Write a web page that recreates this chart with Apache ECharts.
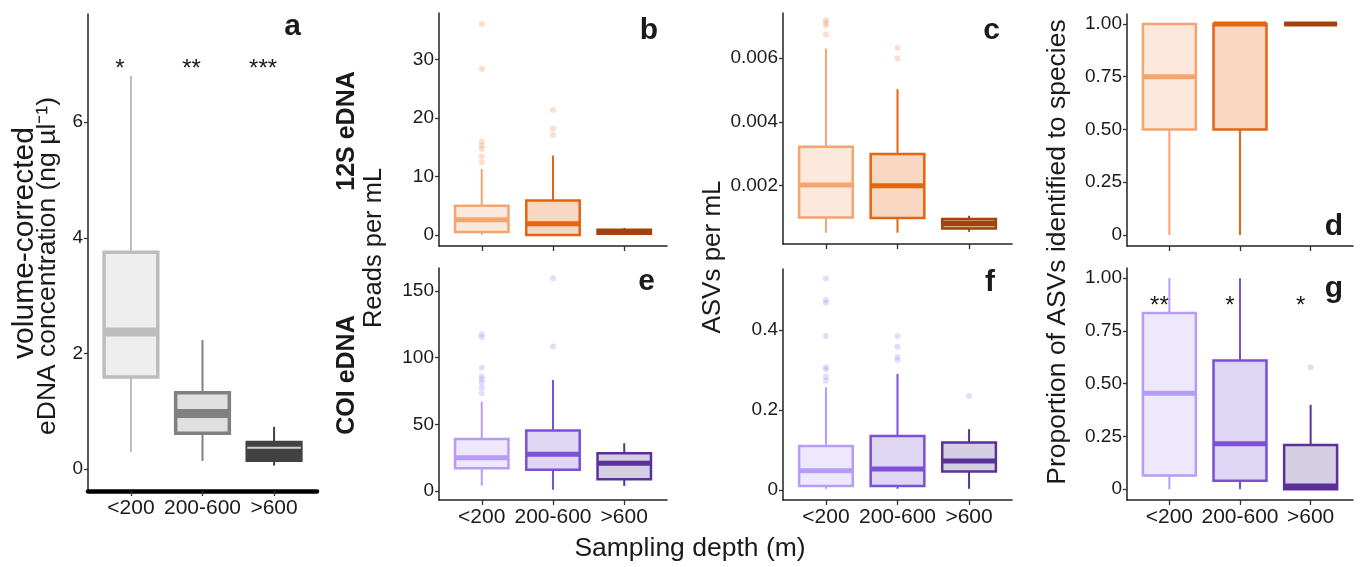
<!DOCTYPE html>
<html><head><meta charset="utf-8">
<script src="https://cdn.jsdelivr.net/npm/echarts@6/dist/echarts.min.js"></script>
<style>html,body{margin:0;padding:0;background:#fff}#c{width:1364px;height:567px}</style>
</head><body><div id="c"></div>
<script>
// ---------- data ----------
const depthCats = ['<200', '200-600', '>600'];
// box stats per depth: [lower whisker, Q1, median, Q3, upper whisker]
const concStats = [[0.29, 1.59, 2.37, 3.75, 6.8], [0.14, 0.62, 0.96, 1.32, 2.23], [0.06, 0.15, 0.37, 0.46, 0.73]];
const concSignif = ['*', '**', '***'];
const reads12SStats = [[0, 0.5, 2.6, 5.0, 11.3], [0, 0, 1.9, 5.9, 13.6], [0.05, 0.2, 0.6, 0.9, 1.2]];
const reads12SOut = [[12.4, 13.4, 14.7, 15.3, 16.0, 28.4, 36.1], [17.1, 18.2, 21.4], []];
const asv12SStats = [[0.00053, 0.00101, 0.00202, 0.00322, 0.00629], [0.00053, 0.00099, 0.002, 0.00299, 0.00502], [0.00056, 0.00066, 0.00082, 0.00096, 0.00106]];
const asv12SOut = [[0.00673, 0.00702, 0.0071, 0.00717], [0.00598, 0.00631], []];
const prop12SStats = [[0, 0.5, 0.75, 1, 1], [0, 0.5, 1, 1, 1], [1, 1, 1, 1, 1]];
const readsCOIStats = [[4, 17, 25, 39, 67], [1, 16, 27.5, 45.3, 83.3], [3.8, 8.8, 20.8, 28.3, 35.8]];
const readsCOIOut = [[73.3, 77.5, 81.3, 83.8, 85.8, 92.5, 115.3, 117.5], [108.3, 159.5], []];
const asvCOIStats = [[0.003, 0.01, 0.048, 0.11, 0.257], [0.003, 0.01, 0.0525, 0.135, 0.29], [0.003, 0.046, 0.0725, 0.119, 0.152]];
const asvCOIOut = [[0.273, 0.283, 0.302, 0.307, 0.385, 0.468, 0.475, 0.529], [0.325, 0.333, 0.358, 0.385], [0.235]];
const propCOIStats = [[0, 0.065, 0.455, 0.835, 1], [0, 0.04, 0.215, 0.61, 1], [0, 0, 0.015, 0.21, 0.4]];
const propCOIOut = [[], [], [0.578]];
const propCOISignif = ['**', '*', '*'];

// tick values and labels
const concTicks = [0, 2, 4, 6];
const concTickLabels = ['0', '2', '4', '6'];
const reads12STicks = [0, 10, 20, 30];
const reads12STickLabels = ['0', '10', '20', '30'];
const asv12STicks = [0.002, 0.004, 0.006];
const asv12STickLabels = ['0.002', '0.004', '0.006'];
const propTicks = [0, 0.25, 0.5, 0.75, 1];
const propTickLabels = ['0', '0.25', '0.50', '0.75', '1.00'];
const readsCOITicks = [0, 50, 100, 150];
const readsCOITickLabels = ['0', '50', '100', '150'];
const asvCOITicks = [0, 0.2, 0.4];
const asvCOITickLabels = ['0', '0.2', '0.4'];

// ---------- styles ----------
const FONT = '"Liberation Sans", Arial, Helvetica, sans-serif';
const grayCols = [
  {line: '#bdbdbd', fill: '#eeeeee', med: '#bdbdbd'},
  {line: '#808080', fill: '#e0e0e0', med: '#808080'},
  {line: '#424242', fill: '#424242', med: '#d0d0d0'}
];
const orangeCols = [
  {line: '#f4a46e', fill: '#fce9dc'},
  {line: '#e4640f', fill: '#f8d8c3'},
  {line: '#a0440c', fill: '#d8a47e'}
];
const purpleCols = [
  {line: '#b69bf7', fill: '#eee8fd'},
  {line: '#7b4fd6', fill: '#dfd6f3'},
  {line: '#5b3197', fill: '#d5cfe4'}
];
const orangeOut = 'rgba(244,164,110,0.45)';
const purpleOut = 'rgba(182,155,247,0.45)';

const panels = [
  {grid: {left: 88, top: 14, width: 229, height: 477}, min: -0.38, max: 7.87, ticks: concTicks, labels: concTickLabels, stats: concStats, out: null, cols: grayCols, showX: true, thickX: true, lw: 3.5, mw: [9, 9, 2], ww: 2},
  {grid: {left: 439, top: 13, width: 228, height: 233}, min: -1.9, max: 38, ticks: reads12STicks, labels: reads12STickLabels, stats: reads12SStats, out: reads12SOut, outCol: orangeOut, cols: orangeCols, showX: false},
  {grid: {left: 783, top: 13, width: 229, height: 231}, min: 0.000178, max: 0.0074, ticks: asv12STicks, labels: asv12STickLabels, stats: asv12SStats, out: asv12SOut, outCol: orangeOut, cols: orangeCols, showX: false},
  {grid: {left: 1127, top: 14, width: 226, height: 232}, min: -0.052, max: 1.047, ticks: propTicks, labels: propTickLabels, stats: prop12SStats, out: null, cols: orangeCols, showX: false},
  {grid: {left: 439, top: 268, width: 228, height: 232}, min: -6.75, max: 167.25, ticks: readsCOITicks, labels: readsCOITickLabels, stats: readsCOIStats, out: readsCOIOut, outCol: purpleOut, cols: purpleCols, showX: true},
  {grid: {left: 783, top: 269, width: 229, height: 231}, min: -0.025, max: 0.5525, ticks: asvCOITicks, labels: asvCOITickLabels, stats: asvCOIStats, out: asvCOIOut, outCol: purpleOut, cols: purpleCols, showX: true},
  {grid: {left: 1127, top: 268, width: 226, height: 232}, min: -0.051, max: 1.048, ticks: propTicks, labels: propTickLabels, stats: propCOIStats, out: propCOIOut, outCol: purpleOut, cols: purpleCols, showX: true}
];

function boxRender(p) {
  const lw = p.lw || 2.5, ww = p.ww || 2, mw = p.mw || [5, 5, 5];
  return function (params, api) {
    const i = params.dataIndex, c = p.cols[i];
    const x = api.value(0);
    const lo = api.coord([x, api.value(1)]), q1 = api.coord([x, api.value(2)]);
    const md = api.coord([x, api.value(3)]), q3 = api.coord([x, api.value(4)]);
    const hi = api.coord([x, api.value(5)]);
    const w = api.size([0.75, 0])[0];
    const cx = q1[0];
    return {type: 'group', children: [
      {type: 'line', shape: {x1: cx, y1: q3[1], x2: cx, y2: hi[1]}, style: {stroke: c.line, lineWidth: ww}},
      {type: 'line', shape: {x1: cx, y1: q1[1], x2: cx, y2: lo[1]}, style: {stroke: c.line, lineWidth: ww}},
      {type: 'rect', shape: {x: cx - w / 2, y: q3[1], width: w, height: q1[1] - q3[1]}, style: {fill: c.fill, stroke: c.line, lineWidth: lw}},
      {type: 'line', shape: {x1: cx - w / 2, y1: md[1], x2: cx + w / 2, y2: md[1]}, style: {stroke: c.med || c.line, lineWidth: mw[i]}}
    ]};
  };
}

function labelFor(ticks, labels) {
  return function (v) {
    for (let k = 0; k < ticks.length; k++) if (Math.abs(v - ticks[k]) < 1e-9) return labels[k];
    return '';
  };
}

const grids = [], xAxes = [], yAxes = [], series = [];
panels.forEach((p, gi) => {
  grids.push(Object.assign({containLabel: false}, p.grid));
  xAxes.push({
    type: 'value', gridIndex: gi, min: 0.4, max: 3.6,
    axisLine: {show: true, onZero: false, lineStyle: {color: p.thickX ? '#000' : '#222', width: p.thickX ? 4.5 : 1.5}},
    axisTick: {show: true, customValues: [1, 2, 3], length: 5, lineStyle: {color: '#333', width: 1.3}},
    axisLabel: {show: p.showX, customValues: [1, 2, 3], formatter: v => depthCats[Math.round(v) - 1], fontSize: 21, fontFamily: FONT, color: '#1a1a1a', margin: 7},
    splitLine: {show: false}
  });
  yAxes.push({
    type: 'value', gridIndex: gi, min: p.min, max: p.max,
    axisLine: {show: true, onZero: false, lineStyle: {color: '#222', width: 1.5}},
    axisTick: {show: true, customValues: p.ticks, length: 4, lineStyle: {color: '#333', width: 1.3}},
    axisLabel: {show: true, customValues: p.ticks, formatter: labelFor(p.ticks, p.labels), fontSize: 19, fontFamily: FONT, color: '#1a1a1a', margin: 5},
    splitLine: {show: false}
  });
  series.push({
    type: 'custom', xAxisIndex: gi, yAxisIndex: gi, renderItem: boxRender(p),
    data: p.stats.map((s, k) => [k + 1].concat(s)), silent: true
  });
  if (p.out) {
    const pts = [];
    p.out.forEach((arr, k) => arr.forEach(v => pts.push([k + 1, v])));
    series.push({type: 'scatter', xAxisIndex: gi, yAxisIndex: gi, symbolSize: 6, itemStyle: {color: p.outCol}, data: pts, silent: true});
  }
});

function signifSeries(gi, texts, yVal, dx) {
  return {
    type: 'custom', xAxisIndex: gi, yAxisIndex: gi, silent: true,
    data: texts.map((t, k) => [k + 1, yVal]),
    renderItem: function (params, api) {
      const pt = api.coord([api.value(0), api.value(1)]);
      return {type: 'text', x: pt[0] + dx, y: pt[1], style: {text: texts[params.dataIndex], font: '24px ' + FONT, fill: '#1a1a1a', align: 'center', verticalAlign: 'middle', textAlign: 'center', textVerticalAlign: 'middle'}};
    }
  };
}
series.push(signifSeries(0, concSignif, 6.92, -11));
series.push(signifSeries(6, propCOISignif, 0.866, -10));

function txt(x, y, text, size, bold, rot, align) {
  return {type: 'text', x: x, y: y, rotation: rot || 0, silent: true,
    style: {text: text, font: (bold ? 'bold ' : '') + size + 'px ' + FONT, fill: '#1a1a1a',
      align: align || 'center', verticalAlign: 'middle', textAlign: align || 'center', textVerticalAlign: 'middle'}};
}
const R = Math.PI / 2;
const graphic = [
  txt(25, 243, 'volume-corrected', 30, false, R),
  txt(48, 266, 'eDNA concentration (ng µl⁻¹)', 26.5, false, R),
  txt(347, 131, '12S eDNA', 25, true, R),
  txt(347, 375, 'COI eDNA', 25, true, R),
  txt(374, 248, 'Reads per mL', 25.5, false, R),
  txt(713, 257, 'ASVs per mL', 26, false, R),
  txt(1058, 252, 'Proportion of ASVs identified to species', 26.5, false, R),
  txt(690, 549, 'Sampling depth (m)', 26.5, false, 0),
  txt(301, 27, 'a', 30, true, 0, 'right'),
  txt(658, 31, 'b', 30, true, 0, 'right'),
  txt(1000, 31, 'c', 30, true, 0, 'right'),
  txt(1343, 227, 'd', 30, true, 0, 'right'),
  txt(655, 282, 'e', 30, true, 0, 'right'),
  txt(995, 283, 'f', 30, true, 0, 'right'),
  txt(1343, 289, 'g', 30, true, 0, 'right')
];

const chart = echarts.init(document.getElementById('c'), null, {renderer: 'canvas'});
chart.setOption({
  backgroundColor: '#ffffff', animation: false,
  grid: grids, xAxis: xAxes, yAxis: yAxes, series: series, graphic: graphic
});
</script></body></html>
